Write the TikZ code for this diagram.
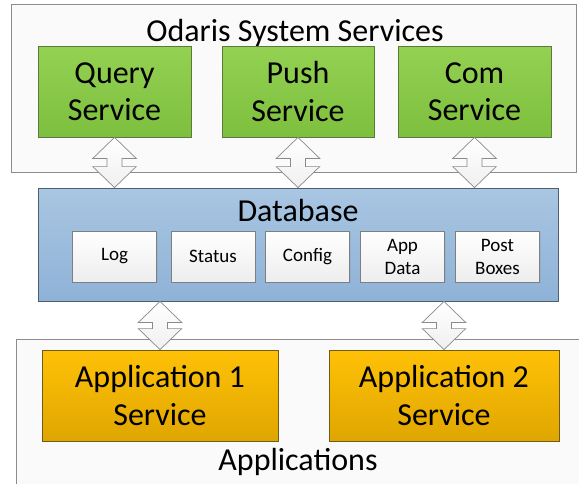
\documentclass[tikz,border=0pt]{standalone}
\usepackage{fontspec}
\setmainfont{Carlito}
\usetikzlibrary{calc,shadows}
\definecolor{contfill}{HTML}{F2F2F2}
\definecolor{contline}{HTML}{8C8C8C}
\definecolor{greentop}{HTML}{94D152}
\definecolor{greenbot}{HTML}{7DBF3E}
\definecolor{greenline}{HTML}{5B7A3C}
\definecolor{bluetop}{HTML}{A9C6E2}
\definecolor{bluebot}{HTML}{8EB2D7}
\definecolor{blueline}{HTML}{4F5F70}
\definecolor{goldtop}{HTML}{FFC107}
\definecolor{goldbot}{HTML}{DFA600}
\definecolor{goldline}{HTML}{6F5A20}
\definecolor{innerline}{HTML}{7F7F7F}
\definecolor{arrline}{HTML}{8A8A8A}
\newcommand\dbarr[2]{%
  \draw[dblarr] let \p1=(#1), \p2=(#2) in
    (\x1,\y1) -- (\x1+21.7pt,\y1-21pt) -- (\x1+7.5pt,\y1-21pt) -- (\x1+7.5pt,\y2+21pt)
    -- (\x1+21.7pt,\y2+21pt) -- (\x1,\y2) -- (\x1-21.7pt,\y2+21pt) -- (\x1-7.5pt,\y2+21pt)
    -- (\x1-7.5pt,\y1-21pt) -- (\x1-21.7pt,\y1-21pt) -- cycle;}
\begin{document}
\begin{tikzpicture}[x=1pt,y=-1pt,
  container/.style={draw=contline, line width=0.8pt, top color=contfill!90!gray!20, bottom color=white!60!contfill, inner sep=0pt},
  bigtext/.style={font=\fontsize{32}{37.5}\selectfont, align=center},
  greenbox/.style={draw=greenline, line width=0.8pt, top color=greentop, bottom color=greenbot, minimum height=91pt, inner sep=0pt, bigtext, drop shadow={opacity=0.18, shadow xshift=1.2pt, shadow yshift=-1.2pt}},
  dbbox/.style={draw=blueline, line width=0.8pt, top color=bluetop, bottom color=bluebot, inner sep=0pt, drop shadow={opacity=0.18, shadow xshift=1.2pt, shadow yshift=-1.2pt}},
  innerbox/.style={draw=innerline, line width=0.8pt, top color=white, bottom color=black!7, minimum width=84pt, minimum height=51pt, inner sep=0pt, font=\fontsize{19}{23}\selectfont, align=center, drop shadow={opacity=0.15, shadow xshift=1pt, shadow yshift=-1pt}},
  goldbox/.style={draw=goldline, line width=0.8pt, top color=goldtop, bottom color=goldbot, minimum height=91pt, inner sep=0pt, bigtext, drop shadow={opacity=0.18, shadow xshift=1.2pt, shadow yshift=-1.2pt}},
  dblarr/.style={draw=arrline, line width=0.7pt, top color=white, bottom color=black!6, line join=miter}
]
\useasboundingbox (0,0) rectangle (579,483);
\clip (0,0) rectangle (579,483);
\fill[white] (0,0) rectangle (579,483);

% containers
\node[container, minimum width=565pt, minimum height=168pt] (sys) at (293.5,88) {};
\node[container, minimum width=579pt, minimum height=161pt] (apps) at (305.5,419.5) {};

\node[bigtext, anchor=base] (systitle) at (295,41) {Odaris System Services};
\node[bigtext, anchor=base] (appstitle) at (298,470) {Applications};

% green services
\node[greenbox, minimum width=153pt] (q) at (114.5,91.5) {Query\\Service};
\node[greenbox, minimum width=152pt] (p) at (298,91.5) {Push\\Service};
\node[greenbox, minimum width=153pt] (c) at (474.5,91.5) {Com\\Service};

% database
\node[dbbox, minimum width=520pt, minimum height=113pt] (db) at (298,244.5) {};
\node[bigtext, anchor=base] (dbtitle) at (298,221) {Database};
\node[innerbox] (log) at (114.5,256.5) {Log};
\node[innerbox] (status) at (213,256.5) {Status};
\node[innerbox] (config) at (307.5,256.5) {Config};
\node[innerbox] (appdata) at (402.5,256.5) {App\\Data};
\node[innerbox] (post) at (497.5,256.5) {Post\\Boxes};

% application services
\node[goldbox, minimum width=236pt] (a1) at (160,395.5) {Application 1\\Service};
\node[goldbox, minimum width=230pt] (a2) at (444,395.5) {Application 2\\Service};

% double arrows
\dbarr{q.south}{q.south |- db.north}
\dbarr{p.south}{p.south |- db.north}
\dbarr{c.south}{c.south |- db.north}
\dbarr{a1.north |- db.south}{a1.north}
\dbarr{a2.north |- db.south}{a2.north}
\end{tikzpicture}
\end{document}
